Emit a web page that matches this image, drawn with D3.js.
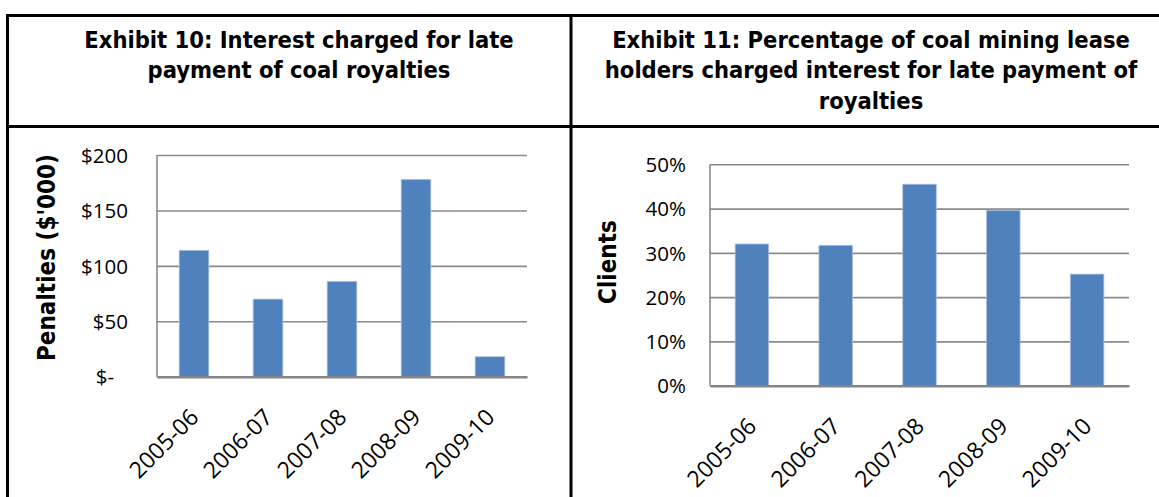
<!DOCTYPE html>
<html>
<head>
<meta charset="utf-8">
<script src="https://cdn.jsdelivr.net/npm/d3@7/dist/d3.min.js"></script>
<style>
  html, body { margin: 0; padding: 0; background: #fff; }
  svg { display: block; }
  .title { font-family: "DejaVu Sans Condensed", "DejaVu Sans", sans-serif; font-weight: bold; font-size: 23.5px; fill: #000; }
  .ytitle { font-family: "DejaVu Sans Condensed", "DejaVu Sans", sans-serif; font-weight: bold; font-size: 24px; fill: #000; }
  .tick text { font-family: "Open Sans", sans-serif; font-size: 20.5px; fill: #000; }
  .xlab .tick text { font-size: 23px; }
</style>
</head>
<body>
<svg id="chart" width="1159" height="497"></svg>
<script>
// ---- data ----
const categories = ["2005-06", "2006-07", "2007-08", "2008-09", "2009-10"];
const penalties = [114, 70, 86, 178, 18];            // $'000
const clientsPct = [0.32, 0.317, 0.455, 0.396, 0.252]; // share of lease holders
const penaltyTicks = [0, 50, 100, 150, 200];
const pctTicks = [0, 0.1, 0.2, 0.3, 0.4, 0.5];
const titleLeft = ["Exhibit 10: Interest charged for late", "payment of coal royalties"];
const titleRight = ["Exhibit 11: Percentage of coal mining lease", "holders charged interest for late payment of", "royalties"];

const svg = d3.select("#chart");
const barColor = "#4f81bd";
const gridColor = "#8a8a8a";

// ---- table frame ----
const frame = svg.append("g").attr("stroke", "#000").attr("stroke-width", 3);
frame.append("line").attr("x1", 6).attr("x2", 1159).attr("y1", 15.5).attr("y2", 15.5);
frame.append("line").attr("x1", 6).attr("x2", 1159).attr("y1", 126.5).attr("y2", 126.5);
frame.append("line").attr("x1", 7.5).attr("x2", 7.5).attr("y1", 14).attr("y2", 497);
frame.append("line").attr("x1", 571).attr("x2", 571).attr("y1", 14).attr("y2", 497);

// ---- titles ----
function drawTitle(lines, cx) {
  const baselines = [47.7, 78.3, 108.6];
  svg.selectAll(null).data(lines).enter().append("text")
    .attr("class", "title")
    .attr("x", cx)
    .attr("y", (d, i) => baselines[i])
    .attr("text-anchor", "middle")
    .text(d => d);
}
drawTitle(titleLeft, 299);
drawTitle(titleRight, 871);

// ---- generic bar chart ----
function barChart(opts) {
  const { values, x0, x1, yBottom, yTop, domainMax, ticks, fmt, labelRight, yTitle, yTitleX, yTitleY } = opts;
  const x = d3.scaleBand().domain(categories).range([x0, x1]).paddingInner(0.6).paddingOuter(0.3);
  const y = d3.scaleLinear().domain([0, domainMax]).range([yBottom, yTop]);
  const g = svg.append("g");

  // gridlines + labels via axis
  const yAxis = d3.axisLeft(y).tickValues(ticks).tickSize(-(x1 - x0)).tickPadding(0).tickFormat(fmt);
  const ga = g.append("g").attr("transform", `translate(${x0},0)`).call(yAxis);
  ga.select(".domain").remove();
  ga.selectAll(".tick line").attr("stroke", gridColor).attr("stroke-width", 1.6);
  ga.selectAll(".tick text")
    .attr("x", d => (d === 0 && opts.zeroShift ? labelRight - x0 - opts.zeroShift : labelRight - x0))
    .attr("dy", "0.35em");

  // bars
  g.selectAll("rect.bar").data(values).enter().append("rect")
    .attr("class", "bar")
    .attr("x", (d, i) => x(categories[i]))
    .attr("width", x.bandwidth())
    .attr("y", d => y(d))
    .attr("height", d => y(0) - y(d))
    .attr("fill", barColor)
    .attr("stroke", "#a9c0df")
    .attr("stroke-width", 0.8);

  // axis lines
  g.append("line").attr("x1", x0).attr("x2", x0).attr("y1", yTop).attr("y2", yBottom)
    .attr("stroke", "#8a8a8a").attr("stroke-width", 1.6);
  const xAxis = d3.axisBottom(x).tickSize(0).tickPadding(0);
  const gx = g.append("g").attr("class", "xlab").attr("transform", `translate(0,${yBottom})`).call(xAxis);
  gx.select(".domain").attr("stroke", "#858585").attr("stroke-width", 2.4);
  gx.selectAll(".tick text")
    .attr("text-anchor", "end")
    .attr("dy", 0)
    .attr("y", 0)
    .attr("transform", "translate(6,42) rotate(-45)");

  // y title
  g.append("text").attr("class", "ytitle")
    .attr("transform", `translate(${yTitleX},${yTitleY}) rotate(-90)`)
    .attr("text-anchor", "middle")
    .attr("dy", "0.36em")
    .text(yTitle);
}

barChart({
  values: penalties, x0: 157, x1: 527, yBottom: 376.7, yTop: 155, domainMax: 200,
  ticks: penaltyTicks, fmt: d => (d === 0 ? "$-" : "$" + d), labelRight: 128, zeroShift: 14,
  yTitle: "Penalties ($'000)", yTitleX: 46.5, yTitleY: 257.5
});

barChart({
  values: clientsPct, x0: 710, x1: 1129, yBottom: 385.7, yTop: 164.3, domainMax: 0.5,
  ticks: pctTicks, fmt: d3.format(".0%"), labelRight: 686, zeroShift: 0,
  yTitle: "Clients", yTitleX: 607, yTitleY: 262
});
</script>
</body>
</html>
